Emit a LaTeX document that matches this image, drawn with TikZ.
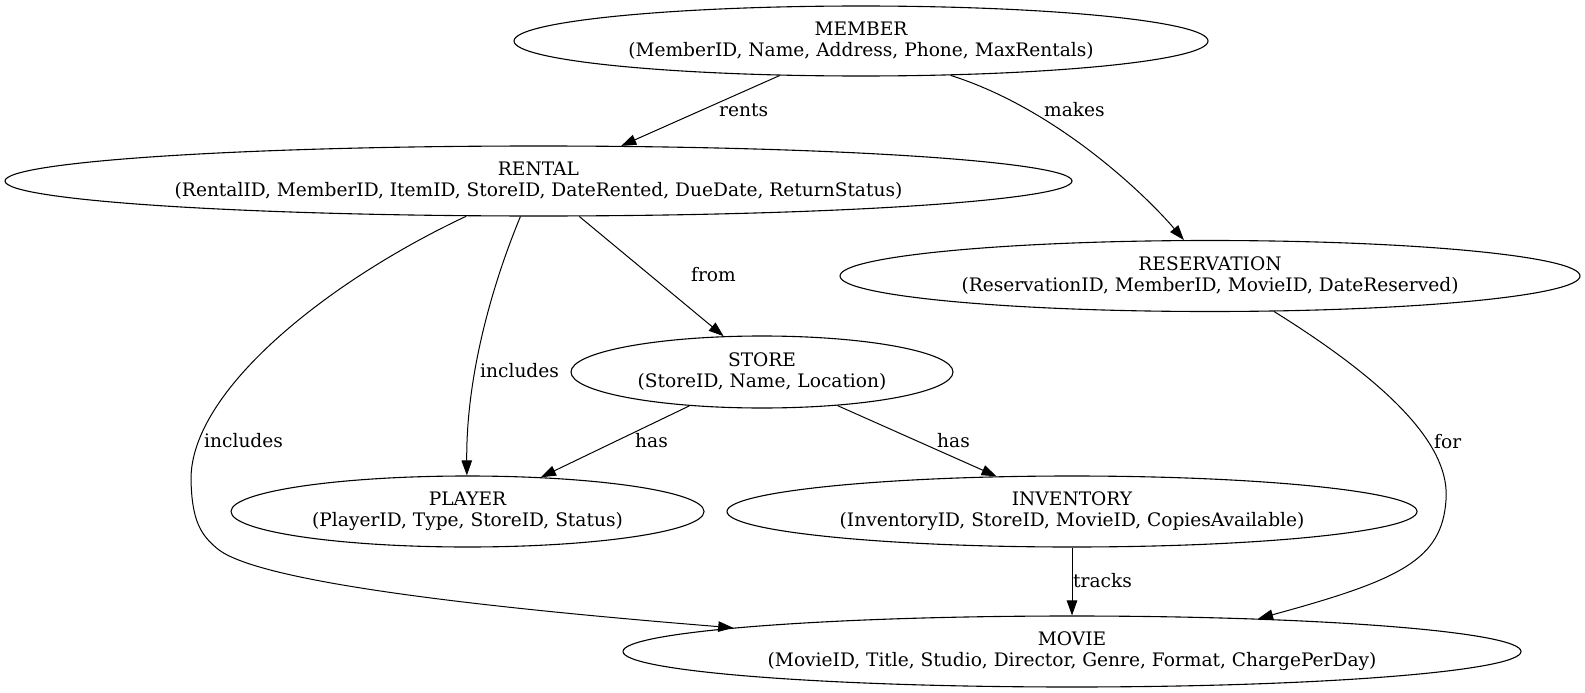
\documentclass[tikz,border=0pt]{standalone}
\usepackage{fontspec}
\setmainfont{DejaVu Serif}
\usetikzlibrary{shapes.geometric,arrows.meta}
\tikzset{
  ent/.style={draw, ellipse, line width=1.1pt, inner sep=0pt, align=center,
    font=\fontsize{18.6}{21}\selectfont},
  rel/.style={draw, line width=1pt, -{Triangle[length=15pt,width=10.5pt]}},
  lbl/.style={anchor=west, inner sep=0pt, font=\fontsize{18.6}{21}\selectfont},
}
\begin{document}
\begin{tikzpicture}[x=1pt,y=-1pt]
\useasboundingbox (0,0) rectangle (1585,693);
\node[ent, minimum width=694, minimum height=70] (member) at (861,41) {MEMBER\\(MemberID, Name, Address, Phone, MaxRentals)};
\node[ent, minimum width=1067, minimum height=70] (rental) at (538.5,181) {RENTAL\\(RentalID, MemberID, ItemID, StoreID, DateRented, DueDate, ReturnStatus)};
\node[ent, minimum width=740, minimum height=71] (reservation) at (1210,276) {RESERVATION\\(ReservationID, MemberID, MovieID, DateReserved)};
\node[ent, minimum width=382, minimum height=72] (store) at (762,372) {STORE\\(StoreID, Name, Location)};
\node[ent, minimum width=473, minimum height=71] (player) at (467.5,511.5) {PLAYER\\(PlayerID, Type, StoreID, Status)};
\node[ent, minimum width=690, minimum height=71] (inventory) at (1072,511.5) {INVENTORY\\(InventoryID, StoreID, MovieID, CopiesAvailable)};
\node[ent, minimum width=898, minimum height=71] (movie) at (1072,651.5) {MOVIE\\(MovieID, Title, Studio, Director, Genre, Format, ChargePerDay)};

\draw[rel] (member.203.6) -- (rental.23.2);
\draw[rel] (member.339.2) .. controls (1060,110) and (1150,200) .. (reservation.126.9);
\draw[rel] (rental.319.9) -- (store.137.9);
\draw[rel] (rental.243.4) .. controls (490,290) and (466,380) .. (player.91);
\draw[rel] (rental.206.2) .. controls (330,280) and (190,390) .. (191,480)
  .. controls (192,520) and (200,535) .. (219,550)
  .. controls (260,580) and (450,605) .. (movie.176.5);
\draw[rel] (store.205.6) -- (player.25.3);
\draw[rel] (store.336.2) -- (inventory.155.8);
\draw[rel] (inventory.south) -- (movie.north);
\draw[rel] (reservation.331.3) .. controls (1400,390) and (1450,450) .. (1446,500)
  .. controls (1442,560) and (1400,580) .. (movie.10);

\node[lbl] (lrents) at (719,110) {rents};
\node[lbl] (lmakes) at (1044,110) {makes};
\node[lbl] (lfrom) at (691,275) {from};
\node[lbl] (lincp) at (480,371) {includes};
\node[lbl] (lincm) at (204,441) {includes};
\node[lbl] (lhasp) at (635,441) {has};
\node[lbl] (lhasi) at (937,441) {has};
\node[lbl] (ltracks) at (1073,581) {tracks};
\node[lbl] (lfor) at (1434,442) {for};
\end{tikzpicture}
\end{document}
